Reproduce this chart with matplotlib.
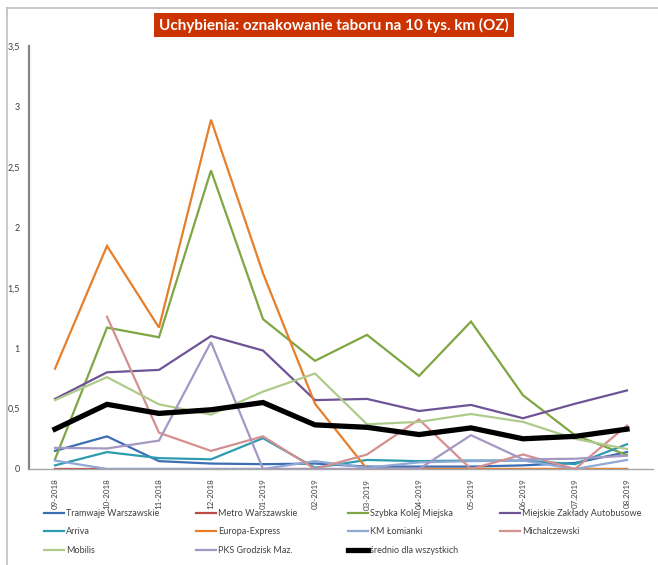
import matplotlib
matplotlib.use("Agg")
import matplotlib.pyplot as plt
from matplotlib.lines import Line2D
import numpy as np

plt.rcParams['font.family'] = ['Lato', 'DejaVu Sans']

# Data
months = ["09-2018", "10-2018", "11-2018", "12-2018", "01-2019", "02-2019",
          "03-2019", "04-2019", "05-2019", "06-2019", "07.2019", "08.2019"]

tramwaje = [0.15, 0.27, 0.065, 0.045, 0.04, 0.045, 0.02, 0.02, 0.02, 0.03, 0.05, 0.14]
metro = [0, 0, 0, 0, 0, 0, 0, 0, 0, 0, 0, 0]
skm = [0.08, 1.17, 1.09, 2.47, 1.24, 0.895, 1.11, 0.77, 1.22, 0.61, 0.28, 0.115]
mza = [0.58, 0.80, 0.82, 1.10, 0.98, 0.57, 0.58, 0.48, 0.53, 0.42, 0.54, 0.65]
arriva = [0.03, 0.14, 0.09, 0.08, 0.255, 0.01, 0.075, 0.065, 0.07, 0.07, 0.04, 0.205]
europa = [0.83, 1.846, 1.17, 2.89, 1.62, 0.54, 0, 0, 0, 0, 0, 0]
lomianki = [0.07, 0, 0, 0, 0, 0.065, 0.01, 0.055, 0.065, 0.07, 0, 0.075]
michalczewski = [np.nan, 1.26, 0.30, 0.15, 0.27, 0, 0.12, 0.41, 0, 0.12, 0, 0.36]
mobilis = [0.57, 0.76, 0.535, 0.45, 0.64, 0.79, 0.37, 0.39, 0.455, 0.39, 0.25, 0.165]
pks = [0.175, 0.17, 0.235, 1.05, 0, 0, 0, 0, 0.28, 0.08, 0.085, 0.11]
srednio = [0.33, 0.535, 0.46, 0.49, 0.55, 0.365, 0.345, 0.285, 0.34, 0.25, 0.27, 0.33]

series = [
    ("Tramwaje Warszawskie", tramwaje, '#3C6EB4', 1.6),
    ("Metro Warszawskie", metro, '#BE4B48', 1.6),
    ("Szybka Kolej Miejska", skm, '#7FA642', 1.6),
    ("Miejskie Zakłady Autobusowe", mza, '#6E5496', 1.6),
    ("Arriva", arriva, '#2E9BB0', 1.6),
    ("Europa-Express", europa, '#E67E2A', 1.6),
    ("KM Łomianki", lomianki, '#8FA8D4', 1.6),
    ("Michalczewski", michalczewski, '#D4908E', 1.6),
    ("Mobilis", mobilis, '#AFCB8C', 1.6),
    ("PKS Grodzisk Maz.", pks, '#A597C5', 1.6),
    ("średnio dla wszystkich", srednio, '#000000', 3.8),
]

W, H = 658, 565
fig = plt.figure(figsize=(W / 100, H / 100), dpi=100)
ax = fig.add_axes([29 / W, 1 - 469 / H, 624 / W, 423 / H])

x = np.arange(len(months))
handles = {}
for name, vals, col, lw in series:
    ln, = ax.plot(x, vals, color=col, lw=lw, label=name, solid_joinstyle='miter')
    handles[name] = ln

ax.set_xlim(-0.5, len(months) - 0.5)
ax.set_ylim(0, 3.5)
ax.set_yticks(np.arange(0, 3.51, 0.5))
ax.set_yticklabels(["0", "0,5", "1", "1,5", "2", "2,5", "3", "3,5"])
ax.set_xticks(x)
ax.set_xticklabels(months, rotation=90)
ax.tick_params(axis='both', length=0, colors='#404040')
ax.tick_params(axis='y', pad=6.5, labelsize=6.5)
ax.tick_params(axis='x', pad=7, labelsize=5.8)
for s in ['top', 'right']:
    ax.spines[s].set_visible(False)
ax.spines['left'].set_color('#868686')
ax.spines['left'].set_linewidth(1.6)
ax.spines['bottom'].set_color('#a6a6a6')
ax.spines['bottom'].set_linewidth(1.0)

# title in red box
fig.text(334 / W, 1 - 25 / H, "Uchybienia: oznakowanie taboru na 10 tys. km (OZ)",
         ha='center', va='center', color='white', fontsize=11, fontweight='bold',
         bbox=dict(boxstyle='square,pad=0.32', fc='#CC3300', ec='none'))

# chart border (top and left)
fig.add_artist(Line2D([7 / W, 1], [1 - 7.5 / H, 1 - 7.5 / H], transform=fig.transFigure,
                      color='#bfbfbf', lw=1.2))
fig.add_artist(Line2D([7 / W, 7 / W], [1 - 7.5 / H, 0], transform=fig.transFigure,
                      color='#bfbfbf', lw=1.2))

# legend, laid out like Excel in 4 fixed-width columns
columns = [
    ["Tramwaje Warszawskie", "Arriva", "Mobilis"],
    ["Metro Warszawskie", "Europa-Express", "PKS Grodzisk Maz."],
    ["Szybka Kolej Miejska", "KM Łomianki", "średnio dla wszystkich"],
    ["Miejskie Zakłady Autobusowe", "Michalczewski"],
]
col_x = [44, 196, 348, 500]
for cx, names in zip(col_x, columns):
    leg = fig.legend([handles[n] for n in names], names, loc='upper left',
                     bbox_to_anchor=(cx / W, 1 - 509 / H), frameon=False,
                     fontsize=6.5, handlelength=2.2, handletextpad=0.2,
                     labelspacing=1.05, borderpad=0, borderaxespad=0)
    for t in leg.get_texts():
        t.set_color('#404040')

fig.savefig("out.png", dpi=100)
